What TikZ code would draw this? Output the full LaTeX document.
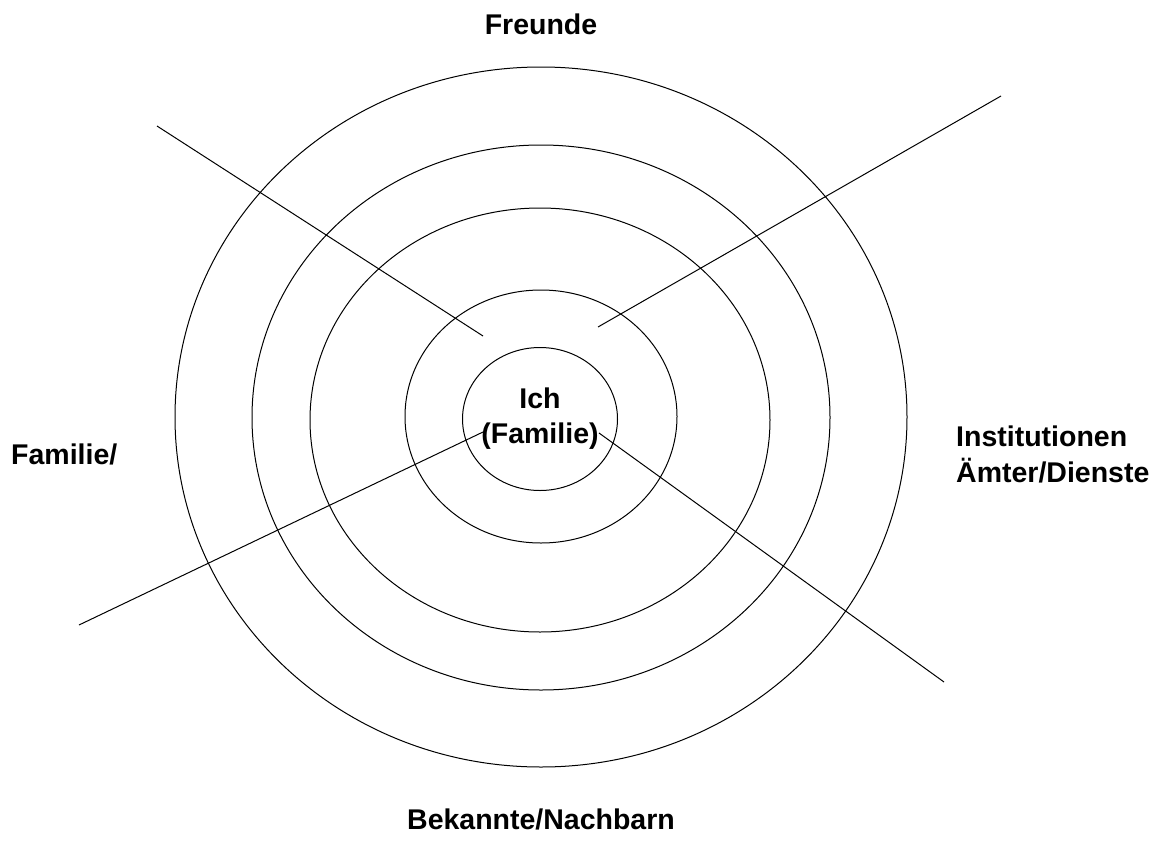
\documentclass[tikz,border=0pt]{standalone}
\usepackage{fontspec}
\setmainfont{Liberation Sans}
\begin{document}
\begin{tikzpicture}[x=1pt,y=-1pt,
  ring/.style={draw=black,line width=1pt},
  spoke/.style={draw=black,line width=1pt},
  lbl/.style={inner sep=0pt,font=\fontsize{28.5}{35}\selectfont\bfseries}]
\useasboundingbox (0,0) rectangle (1165,857);
% concentric rings around the centre
\draw[ring] (541,417) ellipse [x radius=366, y radius=350];
\draw[ring] (541,417.5) ellipse [x radius=289, y radius=272.5];
\draw[ring] (540,420) ellipse [x radius=230, y radius=212];
\draw[ring] (541,416.5) ellipse [x radius=136, y radius=126.5];
\draw[ring] (540,419) ellipse [x radius=77.5, y radius=71.5];
% four spokes dividing the sectors
\coordinate (ulo) at (157,126);  \coordinate (uli) at (483,336);
\coordinate (uro) at (1001,96);  \coordinate (uri) at (598,327);
\coordinate (llo) at (79,625);   \coordinate (lli) at (483,432);
\coordinate (lro) at (944,682);  \coordinate (lri) at (599,433);
\draw[spoke] (ulo) -- (uli);
\draw[spoke] (uro) -- (uri);
\draw[spoke] (llo) -- (lli);
\draw[spoke] (lro) -- (lri);
% labels
\node[lbl,anchor=base] (ich) at (540,408) {Ich};
\node[lbl,anchor=base] (fam) at (540,443) {(Familie)};
\node[lbl,anchor=base] (freunde) at (541,34) {Freunde};
\node[lbl,anchor=base west] (familie) at (11,464) {Familie/};
\node[lbl,anchor=base west] (inst) at (956,446) {Institutionen};
\node[lbl,anchor=base west] (aemter) at (956,482) {Ämter/Dienste};
\node[lbl,anchor=base] (bekannte) at (541,829) {Bekannte/Nachbarn};
\end{tikzpicture}
\end{document}
